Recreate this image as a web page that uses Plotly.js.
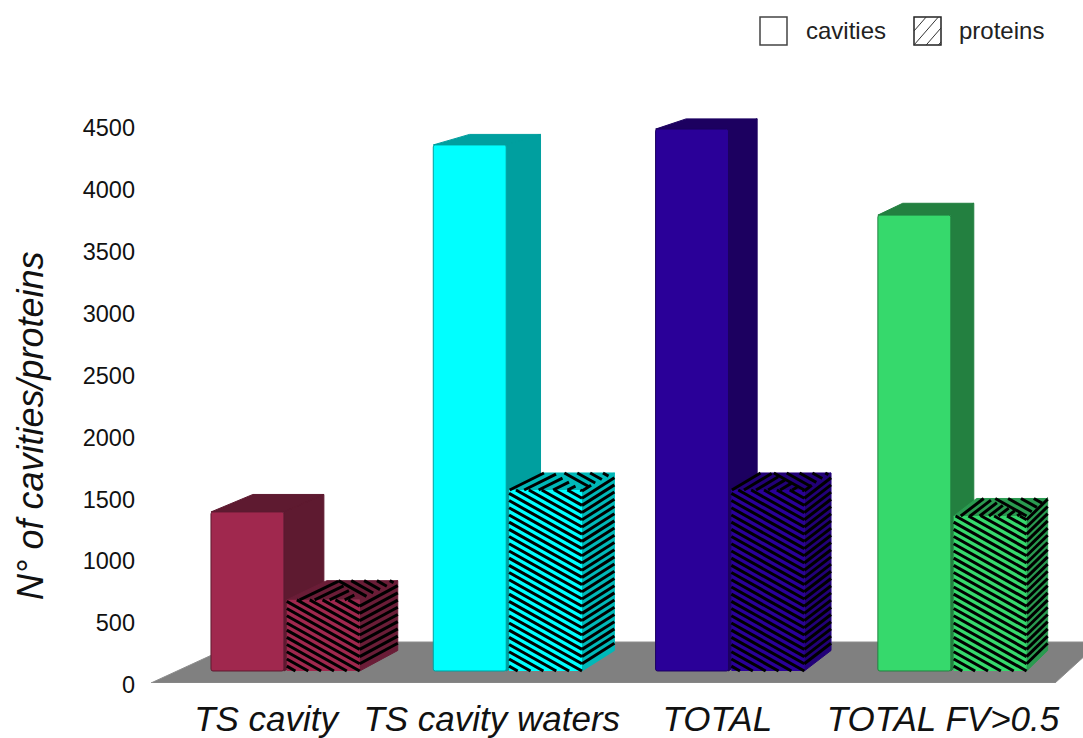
<!DOCTYPE html>
<html>
<head>
<meta charset="utf-8">
<script src="https://cdn.plot.ly/plotly-3.0.1.min.js"></script>
<style>html,body{margin:0;padding:0;background:#fff;overflow:hidden}</style>
</head>
<body>
<div id="chart" style="width:1083px;height:738px"></div>
<script>
// Values per category
const categories = ['TS cavity', 'TS cavity waters', 'TOTAL', 'TOTAL FV>0.5'];
const cavities = [1285, 4250, 4378, 3683];
const proteins = [575, 1462, 1462, 1252];
const yTicks = [0, 500, 1000, 1500, 2000, 2500, 3000, 3500, 4000, 4500];

// Face colours per category
const frontColors = ['#a0284e', '#00ffff', '#2a0098', '#36d96c'];
const sideColors = ['#5e1a30', '#009f9f', '#1c0060', '#238040'];
const hatchedSideColors = ['#6a1d37', '#00b8b8', '#220078', '#2a9a50'];

// Plot frame and scales
const W = 1083, H = 738, mL = 150, mB = 55;
const pxX = 222.3, pxY = 0.12378, groupPx = 285;
const xMin = (mL - groupPx) / pxX, xMax = (W - groupPx) / pxX;
const yMax = (H - mB) / pxY;
const xToPx = v => mL + (v - xMin) * pxX;
const yToPx = v => (H - mB) - v * pxY;
const pxToX = p => xMin + (p - mL) / pxX;
const pxToY = p => ((H - mB) - p) / pxY;

// Oblique projection of the depth axis: shrinks toward the right and with height
const baseLift = 97, barWidth = 0.328;
const dxAt = px => 40 - 0.0255 * (px - 284);
const dyAt = h => 20.5 - 0.019 * h;

function barFaces(i, off, value) {
  const xl = i + off, xr = xl + barWidth, b = baseLift, t = b + value;
  const h = value * pxY;
  const dxL = dxAt(xToPx(xl)) / pxX, dxR = dxAt(xToPx(xr)) / pxX;
  const dyT = dyAt(h) / pxY, dyB = dyAt(0) / pxY;
  return {
    front: [[xl, b], [xr, b], [xr, t], [xl, t]],
    side: [[xr, b], [xr, t], [xr + dxR, t + dyT], [xr + dxR, b + dyB]],
    top: [[xl, t], [xl + dxL, t + dyT], [xr + dxR, t + dyT], [xr, t]]
  };
}

function polyTrace(polys, color, zorder) {
  const x = [], y = [];
  polys.forEach(p => {
    p.forEach(q => { x.push(q[0]); y.push(q[1]); });
    x.push(p[0][0]); y.push(p[0][1]);
    x.push(null); y.push(null);
  });
  return {
    type: 'scatter', mode: 'lines', x, y, fill: 'toself', fillcolor: color,
    line: { color, width: 1, shape: 'linear' }, hoverinfo: 'skip', showlegend: false, zorder
  };
}

// Parallel hatch lines clipped to a convex polygon; works in screen pixels
function hatchPx(poly, slope, pitch, phase) {
  const out = [];
  const cs = poly.map(q => q[1] - slope * q[0]);
  const cLo = Math.min(...cs), cHi = Math.max(...cs);
  for (let k = Math.ceil((cLo - phase) / pitch); phase + k * pitch <= cHi; k++) {
    const c = phase + k * pitch, hits = [];
    poly.forEach((a, n) => {
      const e = poly[(n + 1) % poly.length];
      const fa = a[1] - slope * a[0] - c, fb = e[1] - slope * e[0] - c;
      if ((fa <= 0 && fb > 0) || (fa > 0 && fb <= 0)) {
        const s = fa / (fa - fb);
        hits.push([a[0] + s * (e[0] - a[0]), a[1] + s * (e[1] - a[1])]);
      }
    });
    if (hits.length >= 2) out.push([hits[0], hits[1]]);
  }
  return out;
}

const toScreen = poly => poly.map(q => [xToPx(q[0]), yToPx(q[1])]);

const stripeX = [], stripeY = [];
function addStripes(segs) {
  segs.forEach(s => {
    stripeX.push(pxToX(s[0][0]), pxToX(s[1][0]), null);
    stripeY.push(pxToY(s[0][1]), pxToY(s[1][1]), null);
  });
}

const cavitySides = [], proteinSides = [];
const cavityOffset = -0.333, proteinOffset = 0.008;

categories.forEach((_, i) => {
  const c = barFaces(i, cavityOffset, cavities[i]);
  const p = barFaces(i, proteinOffset, proteins[i]);
  cavitySides.push(polyTrace([c.side, c.top], sideColors[i], 0));
  proteinSides.push(polyTrace([p.side, p.top], hatchedSideColors[i], 2));

  const pitch = 7.2, f = toScreen(p.front), s = toScreen(p.side), t = toScreen(p.top);
  const frontSlope = 0.56;
  const sideSlope = (s[3][1] - s[0][1]) / (s[3][0] - s[0][0]);
  addStripes(hatchPx(f, frontSlope, pitch, f[1][1] - frontSlope * f[1][0]));
  addStripes(hatchPx(s, sideSlope, pitch, s[0][1] - sideSlope * s[0][0]));

  // Top face: nested chevrons whose ridge runs back from the front-right corner
  const ridge = [t[1][0] + 0.15 * (t[2][0] - t[1][0]), t[1][1]];
  const topSlope = (t[1][1] - t[0][1]) / (t[1][0] - t[0][0]);
  addStripes(hatchPx([t[0], t[1], ridge, t[3]], topSlope, pitch, t[3][1] - topSlope * t[3][0]));
  addStripes(hatchPx([ridge, t[2], t[3]], frontSlope, pitch, t[3][1] - frontSlope * t[3][0]));
});

const cavityBars = {
  type: 'bar', name: 'cavities', x: categories.map((_, i) => i), y: cavities, base: baseLift,
  offset: cavityOffset, width: barWidth,
  marker: { color: frontColors, cornerradius: 2, line: { color: sideColors, width: 1 } },
  hoverinfo: 'skip', showlegend: false, zorder: 1
};
const proteinBars = {
  type: 'bar', name: 'proteins', x: categories.map((_, i) => i), y: proteins, base: baseLift,
  offset: proteinOffset, width: barWidth,
  marker: { color: frontColors, line: { width: 0 } },
  hoverinfo: 'skip', showlegend: false, zorder: 3
};
const stripes = {
  type: 'scatter', mode: 'lines', x: stripeX, y: stripeY,
  line: { color: '#000', width: 3 }, hoverinfo: 'skip', showlegend: false, zorder: 4
};

// Floor parallelogram in axis units
const floorDepth = 331;
const floorPath = 'M' + pxToX(151) + ',0 L' + pxToX(240) + ',' + floorDepth +
  ' L' + pxToX(1100) + ',' + floorDepth + ' L' + pxToX(1055) + ',0 Z';

// Key in the top-right corner
const paperX = p => (p - mL) / (W - mL);
const paperY = p => (H - mB - p) / (H - mB);
const boxShape = (x0, x1, y0, y1, color) => ({
  type: 'rect', xref: 'paper', yref: 'paper',
  x0: paperX(x0), x1: paperX(x1), y0: paperY(y0), y1: paperY(y1),
  line: { color, width: 1.5 }, fillcolor: '#fff'
});
const hatchBox = [[914, 17], [941, 17], [941, 45], [914, 45]];
const keyHatch = hatchPx(hatchBox, -1.15, 14, 45 + 1.15 * 914).map(s => ({
  type: 'line', xref: 'paper', yref: 'paper',
  x0: paperX(s[0][0]), y0: paperY(s[0][1]), x1: paperX(s[1][0]), y1: paperY(s[1][1]),
  line: { color: '#333', width: 1 }
}));

const sansFont = 'Liberation Sans, Arial, sans-serif';
const keyText = (text, px) => ({
  text, xref: 'paper', yref: 'paper', x: paperX(px), y: paperY(31),
  xanchor: 'left', yanchor: 'middle', showarrow: false,
  font: { family: sansFont, size: 24, color: '#222' }
});

// The axis title sits low on the axis, so it is placed as a rotated annotation
const yTitle = {
  text: 'N° of cavities/proteins', textangle: -90, xref: 'paper', yref: 'paper',
  x: paperX(30), y: paperY(426), xanchor: 'center', yanchor: 'middle', showarrow: false,
  font: { family: sansFont, size: 36, style: 'italic', color: '#111' }
};

const layout = {
  width: W, height: H, paper_bgcolor: '#fff', plot_bgcolor: '#fff',
  margin: { l: mL, r: 0, t: 0, b: mB, pad: 0 },
  barmode: 'overlay', showlegend: false,
  xaxis: {
    range: [xMin, xMax], tickmode: 'array',
    tickvals: categories.map((_, i) => i - 0.085 + 0.015 * i), ticktext: categories,
    tickangle: 0, showgrid: false, zeroline: false, showline: false, ticks: '',
    ticklabelstandoff: 12, automargin: false,
    tickfont: { family: sansFont, size: 35, style: 'italic', color: '#111' }
  },
  yaxis: {
    range: [0, yMax], tickmode: 'array', tickvals: yTicks, ticktext: yTicks.map(String),
    showgrid: false, zeroline: false, showline: false, ticks: '', ticklabelstandoff: 14,
    ticklabelshift: 2, automargin: false,
    tickfont: { family: sansFont, size: 23.5, color: '#111' }
  },
  shapes: [
    { type: 'path', xref: 'x', yref: 'y', layer: 'below', path: floorPath, fillcolor: '#808080', line: { color: '#8c8c8c', width: 1 } },
    boxShape(760, 787, 17, 45, '#444'),
    boxShape(914, 941, 17, 45, '#222')
  ].concat(keyHatch),
  annotations: [keyText('cavities', 804), keyText('proteins', 957), yTitle]
};

const traces = [...cavitySides, cavityBars, ...proteinSides, proteinBars, stripes];
Plotly.newPlot('chart', traces, layout, { displayModeBar: false, staticPlot: true });
</script>
</body>
</html>
